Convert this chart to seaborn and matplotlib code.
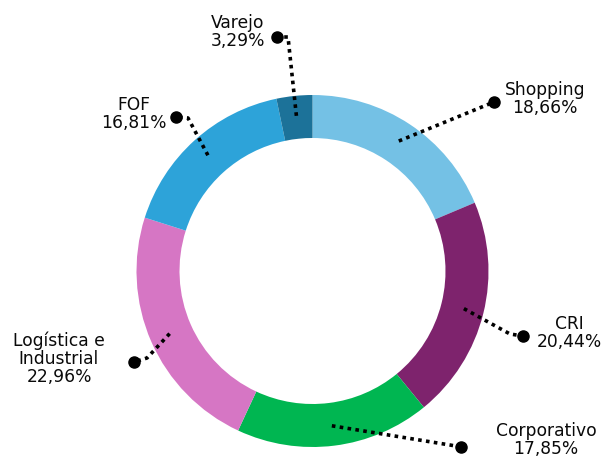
import numpy as np
import matplotlib
matplotlib.use("Agg")
import matplotlib.pyplot as plt
import seaborn as sns

# ---- data ----
categories = ["Shopping", "CRI", "Corporativo", "Logística e\nIndustrial", "FOF", "Varejo"]
values = [18.66, 20.44, 17.85, 22.96, 16.81, 3.29]
value_labels = ["18,66%", "20,44%", "17,85%", "22,96%", "16,81%", "3,29%"]
colors = ["#74C1E5", "#7E236D", "#00B651", "#D676C4", "#2DA3D9", "#1C7299"]

# ---- layout (pixel coordinates, y from top) ----
W, H = 603, 458
cx, cy = 312.5, 271
R_out, ring_w = 176, 43
# label text centres, leader elbows and dots
label_pos = [(545, 99), (569, 333), (546, 440), (59, 359), (134, 114), (238, 32)]
elbows = [None, (510, 334), (450, 445), (147, 358), (188, 118), (288, 37)]
dots = [(494, 102), (523, 336), (461, 447), (134, 362), (176, 117), (277, 37)]

sns.set_theme(style="white")
plt.rcParams["font.family"] = ["DejaVu Sans"]

fig = plt.figure(figsize=(W / 100, H / 100), dpi=100)
ax = fig.add_axes([0, 0, 1, 1])

ax.pie(values, colors=colors, startangle=90, counterclock=False,
       radius=R_out, center=(cx, H - cy),
       wedgeprops=dict(width=ring_w, linewidth=0))
ax.set_xlim(0, W)
ax.set_ylim(0, H)
ax.set_aspect("equal")
ax.axis("off")

total = sum(values)
cum = np.cumsum([0] + values)
r_mid = R_out - ring_w / 2 + 1.5
for i, v in enumerate(values):
    frac_mid = (cum[i] + v / 2) / total
    ang = np.deg2rad(90 - 360 * frac_mid)
    x0 = cx + r_mid * np.cos(ang)
    y0 = (H - cy) + r_mid * np.sin(ang)
    pts = [(x0, y0)]
    if elbows[i] is not None:
        pts.append((elbows[i][0], H - elbows[i][1]))
    pts.append((dots[i][0], H - dots[i][1]))
    xs, ys = zip(*pts)
    ax.plot(xs, ys, color="black", lw=2.6, linestyle=(0, (1, 1.2)),
            solid_capstyle="butt", dash_capstyle="butt", zorder=5)
    ax.plot([dots[i][0]], [H - dots[i][1]], "o", color="black", ms=8, zorder=6)
    tx, ty = label_pos[i]
    ax.text(tx, H - ty, f"{categories[i]}\n{value_labels[i]}", ha="center", va="center",
            fontsize=12.3, color="#0a0a0a", linespacing=1.0, zorder=7)

fig.savefig("out.png", dpi=100)
